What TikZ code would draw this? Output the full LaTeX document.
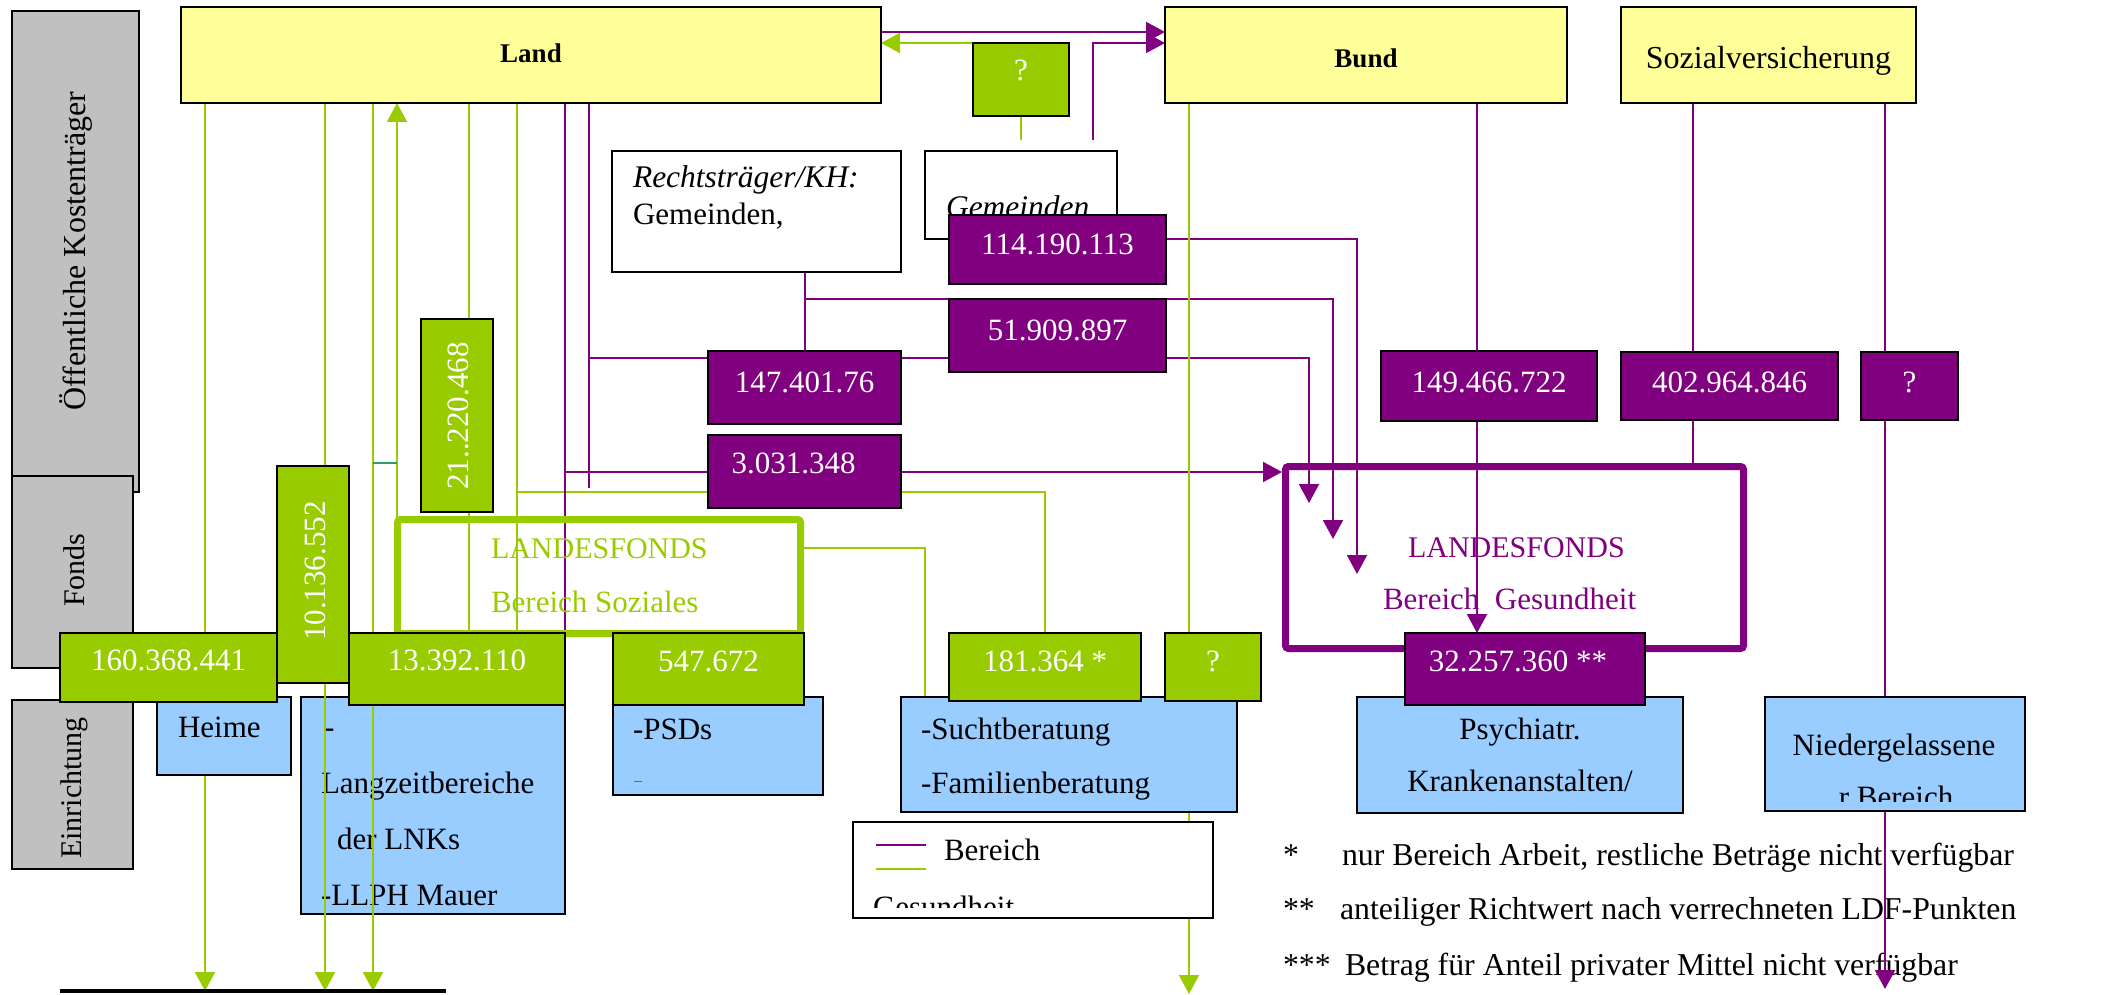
\documentclass[tikz,border=0pt]{standalone}
\usepackage{fontspec}
\setmainfont{Liberation Serif}
\usetikzlibrary{arrows.meta}

\definecolor{payeryellow}{HTML}{FFFF99}
\definecolor{sozgreen}{HTML}{99CC00}
\definecolor{gespurple}{HTML}{800080}
\definecolor{facblue}{HTML}{99CCFF}
\definecolor{rowgray}{HTML}{C0C0C0}
\definecolor{linkteal}{HTML}{339966}

\pgfdeclarelayer{back}
\pgfdeclarelayer{links}
\pgfsetlayers{back,links,main}

\newcommand\fsz[1]{\fontsize{#1pt}{#1pt}\selectfont}

\begin{document}
\begin{tikzpicture}[x=1pt, y=-1pt,
  every node/.style={inner sep=0pt, outer sep=0pt},
  frame/.style={draw=black, line width=2pt, anchor=north west},
  payer/.style={frame, fill=payeryellow},
  rowlabel/.style={frame, fill=rowgray},
  gamount/.style={frame, fill=sozgreen, text=white, font=\fsz{31}},
  pamount/.style={frame, fill=gespurple, text=white, font=\fsz{31}},
  facility/.style={frame, fill=facblue},
  plainbox/.style={frame, fill=white},
  fundframe/.style={line width=7pt, rounded corners=3pt, anchor=north west},
  gline/.style={draw=sozgreen, line width=2pt},
  pline/.style={draw=gespurple, line width=2pt},
  arrowend/.style={-{Triangle[length=19pt,width=20pt]}},
  txt/.style={anchor=base west, font=\fsz{31}},
  ctxt/.style={anchor=base, font=\fsz{31}},
  vtxt/.style={rotate=90, font=\fsz{31}},
  note/.style={anchor=base west, font=\fsz{31.8}},
]
\useasboundingbox (0,0) rectangle (2103,995);

% ---------- row labels, long-term care box and footnotes (bottom layer)
\begin{pgfonlayer}{back}
  \node[rowlabel, minimum width=127pt, minimum height=481pt] (rowpayer) at (12,11) {};
  \node[vtxt, font=\fsz{32}] (rowpayertext) at (76,251) {Öffentliche Kostenträger};
  \node[rowlabel, minimum width=121pt, minimum height=192pt] (rowfund) at (12,476) {};
  \node[vtxt, font=\fsz{30}] (rowfundtext) at (74,570) {Fonds};
  \node[rowlabel, minimum width=121pt, minimum height=169pt] (rowfac) at (12,700) {};
  \node[vtxt, font=\fsz{30}] (rowfactext) at (74,788) {Einrichtung};

  \node[facility, minimum width=264pt, minimum height=217pt] (langzeit) at (301,697) {};
  \node[txt] (lz1) at (324,737) {-};
  \node[txt] (lz2) at (321,793) {Langzeitbereiche};
  \node[txt] (lz3) at (337,849) {der LNKs};
  \node[txt] (lz4) at (321,905) {-LLPH Mauer};

  \node[note] (fn1a) at (1283,865) {*};
  \node[note] (fn1b) at (1342,865) {nur Bereich Arbeit, restliche Beträge nicht verfügbar};
  \node[note] (fn2a) at (1283,919) {**};
  \node[note] (fn2b) at (1340,919) {anteiliger Richtwert nach verrechneten LDF-Punkten};
  \node[note] (fn3a) at (1283,975) {***};
  \node[note] (fn3b) at (1345,975) {Betrag für Anteil privater Mittel nicht verfügbar};
\end{pgfonlayer}

% ---------- payers
\node[payer, minimum width=700pt, text height=56pt, text depth=40pt, font=\bfseries\fsz{27}] (land) at (181,7) {Land};
\node[payer, minimum width=402pt, text height=61pt, text depth=35pt, font=\bfseries\fsz{27}] (bund) at (1165,7) {Bund};
\node[payer, minimum width=295pt, text height=62pt, text depth=34pt, font=\fsz{32}] (sozvers) at (1621,7) {Sozialversicherung};
\node[gamount, minimum width=96pt, text height=38pt, text depth=35pt] (qtop) at (973,43) {?};

% ---------- hospital owners
\node[plainbox, minimum width=289pt, minimum height=121pt] (recht) at (612,151) {};
\node[txt, font=\itshape\fsz{31.5}] (recht1) at (633,188) {Rechtsträger/KH:};
\node[txt] (recht2) at (633,225) {Gemeinden,};
\node[plainbox, minimum width=192pt, minimum height=88pt] (gem) at (925,151) {};
\node[txt, font=\itshape\fsz{31.5}] (gem1) at (946,217) {Gemeinden};

% ---------- health amounts
\node[pamount, minimum width=217pt, text height=39pt, text depth=30pt] (n114) at (949,215) {114.190.113};
\node[pamount, minimum width=217pt, text height=41pt, text depth=32pt] (n51) at (949,299) {51.909.897};
\node[pamount, minimum width=193pt, text height=41pt, text depth=32pt] (n147) at (708,351) {147.401.76};
\node[pamount, minimum width=193pt, text height=38pt, text depth=35pt] (n3) at (708,435) {\hspace*{-22pt}3.031.348};
\node[pamount, minimum width=216pt, text height=41pt, text depth=29pt] (n149) at (1381,351) {149.466.722};
\node[pamount, minimum width=217pt, text height=40pt, text depth=28pt] (n402) at (1621,352) {402.964.846};
\node[pamount, minimum width=97pt, text height=40pt, text depth=28pt] (nsvq) at (1861,352) {?};

% ---------- social amounts (vertical)
\node[gamount, minimum width=72pt, minimum height=193pt] (n21) at (421,319) {};
\node[vtxt, text=white] (n21text) at (458,416) {21..220.468};
\node[gamount, minimum width=72pt, minimum height=217pt] (n10) at (277,466) {};
\node[vtxt, text=white] (n10text) at (315,571) {10.136.552};

% ---------- Landesfonds Soziales
\node[fundframe, draw=sozgreen, minimum width=403pt, minimum height=114pt] (sozfonds) at (397.5,519.5) {};
\node[txt, text=sozgreen, font=\fsz{30}] (soz1) at (491,558) {LANDESFONDS};
\node[txt, text=sozgreen] (soz2) at (491,612) {Bereich Soziales};

% ---------- Landesfonds Gesundheit
\node[fundframe, draw=gespurple, minimum width=458pt, minimum height=182pt] (gesfonds) at (1285.5,466.5) {};
\node[txt, text=gespurple, font=\fsz{30}] (ges1) at (1408,557) {LANDESFONDS};
\node[txt, text=gespurple] (ges2) at (1383,609) {Bereich\ \ Gesundheit};

% ---------- facilities with their amounts
\node[facility, minimum width=134pt, minimum height=78pt] (heime) at (157,697) {};
\node[txt] (heimetext) at (178,737) {Heime};
\node[gamount, minimum width=217pt, text height=37pt, text depth=32pt] (n160) at (60,633) {160.368.441};
\node[gamount, minimum width=216pt, text height=37pt, text depth=35pt] (n13) at (349,633) {13.392.110};

\node[facility, minimum width=210pt, minimum height=98pt] (psd) at (613,697) {};
\node[txt] (psd1) at (633,739) {-PSDs};
\begin{scope}
  \clip (613,697) rectangle (823,781.5);
  \node[txt] (psd2) at (633,790) {-};
\end{scope}
\node[gamount, minimum width=191pt, text height=38pt, text depth=34pt] (n547) at (613,633) {547.672};

\node[facility, minimum width=336pt, minimum height=115pt] (sucht) at (901,697) {};
\node[txt] (sucht1) at (921,739) {-Suchtberatung};
\node[txt] (sucht2) at (921,793) {-Familienberatung};
\node[gamount, minimum width=192pt, text height=38pt, text depth=30pt] (n181) at (949,633) {181.364 *};
\node[gamount, minimum width=96pt, text height=38pt, text depth=30pt] (nbq) at (1165,633) {?};

\node[facility, minimum width=326pt, minimum height=116pt] (psych) at (1357,697) {};
\node[ctxt] (psych1) at (1520,739) {Psychiatr.};
\node[ctxt] (psych2) at (1520,791) {Krankenanstalten/};
\node[pamount, minimum width=240pt, text height=38pt, text depth=34pt] (n32) at (1405,633) {\hspace*{-14pt}32.257.360 **};

\node[facility, minimum width=260pt, minimum height=114pt] (nieder) at (1765,697) {};
\node[ctxt] (nieder1) at (1894,755) {Niedergelassene};
\begin{scope}
  \clip (1765,697) rectangle (2025,801);
  \node[ctxt] (nieder2) at (1896,807) {r Bereich};
\end{scope}

% ---------- legend
\node[plainbox, minimum width=360pt, minimum height=96pt] (legend) at (853,822) {};
\coordinate (lgp1) at (876,845);
\coordinate (lgp2) at (926,845);
\coordinate (lgg1) at (876,869);
\coordinate (lgg2) at (926,869);
\draw[pline] (lgp1) -- (lgp2);
\draw[gline] (lgg1) -- (lgg2);
\node[txt] (legend1) at (944,860) {Bereich};
\begin{scope}
  \clip (853,822) rectangle (1213,907);
  \node[txt] (legend2) at (873,917) {Gesundheit};
\end{scope}

% ---------- floor line
\coordinate (floorL) at (60,991);
\coordinate (floorR) at (446,991);
\draw[black, line width=3.5pt] (floorL) -- (floorR);

% ---------- money flows (below the boxes)
\begin{pgfonlayer}{links}
  % between the payers
  \draw[pline, arrowend] ([yshift=-25pt]land.north east) -- ([yshift=-25pt]land.north east -| bund.west);
  \draw[gline, arrowend] (qtop.north west) -- (qtop.north west -| land.east);
  \draw[gline] (qtop.south) -- ++(0,24);
  \coordinate (gemlink) at (1093,140);
  \draw[pline, arrowend] (gemlink) |- (qtop.north west -| bund.west);

  % drops from Land
  \coordinate (ld205) at ([xshift=24pt]land.south west);
  \coordinate (ld325) at ([xshift=144pt]land.south west);
  \coordinate (ld373) at ([xshift=192pt]land.south west);
  \coordinate (ld397) at ([xshift=216pt]land.south west);
  \coordinate (ld469) at ([xshift=288pt]land.south west);
  \coordinate (ld517) at ([xshift=336pt]land.south west);
  \coordinate (ld565) at ([xshift=384pt]land.south west);
  \coordinate (ld589) at ([xshift=408pt]land.south west);

  \draw[gline, arrowend] (ld205) -- (ld205 |- floorL);
  \draw[gline, arrowend] (ld325) -- (ld325 |- floorL);
  \draw[gline, arrowend] (ld373) -- (ld373 |- floorL);
  \draw[gline, arrowend] (ld397 |- sozfonds.north) -- (ld397);
  \coordinate (tealA) at (373,463);
  \coordinate (tealB) at (397,463);
  \draw[draw=linkteal, line width=2pt] (tealA) -- (tealB);
  \draw[gline] (ld469) -- (ld469 |- n13.north);
  \draw[gline] (ld517) -- (ld517 |- n13.north);
  \coordinate (gj492) at (517,492);
  \draw[gline] (gj492) -| (n181.north);
  \coordinate (gj548) at ([yshift=28.5pt]sozfonds.east);
  \coordinate (gx925) at ([xshift=24pt]sucht.north west);
  \draw[gline] (gj548) -| (gx925);

  \draw[pline] (ld565) -- (n13.north east);
  \coordinate (pj472) at (565,472);
  \draw[pline, arrowend, shorten >=3.5pt] (pj472) -- (pj472 -| gesfonds.west);
  \coordinate (pd589) at (589,488);
  \draw[pline] (ld589) -- (pd589);
  \coordinate (pj358) at (589,358);
  \coordinate (gin1) at (1309,503);
  \draw[pline, arrowend] (pj358) -| (gin1);

  % from the hospital owners
  \draw[pline] (n147.north |- recht.south) -- (n147.north);
  \coordinate (pj299) at (805,299);
  \coordinate (gin2) at (1333,539);
  \draw[pline, arrowend] (pj299) -| (gin2);
  \coordinate (pj239) at ([yshift=10.5pt]n114.east);
  \coordinate (gin3) at (1357,574);
  \draw[pline, arrowend] (pj239) -| (gin3);

  % from Bund
  \coordinate (bd1189) at ([xshift=24pt]bund.south west);
  \coordinate (bd1477) at ([xshift=312pt]bund.south west);
  \coordinate (bottomG) at (1189,994);
  \draw[gline, arrowend] (bd1189) -- (bottomG);
  \draw[pline, arrowend] (bd1477) -- (bd1477 |- n32.north);

  % from Sozialversicherung
  \coordinate (sv1693) at ([xshift=72pt]sozvers.south west);
  \coordinate (sv1885) at ([xshift=264pt]sozvers.south west);
  \coordinate (bottomP) at (1885,989);
  \draw[pline] (sv1693) -- (sv1693 |- gesfonds.north);
  \draw[pline, arrowend] (sv1885) -- (bottomP);
\end{pgfonlayer}
\end{tikzpicture}
\end{document}
